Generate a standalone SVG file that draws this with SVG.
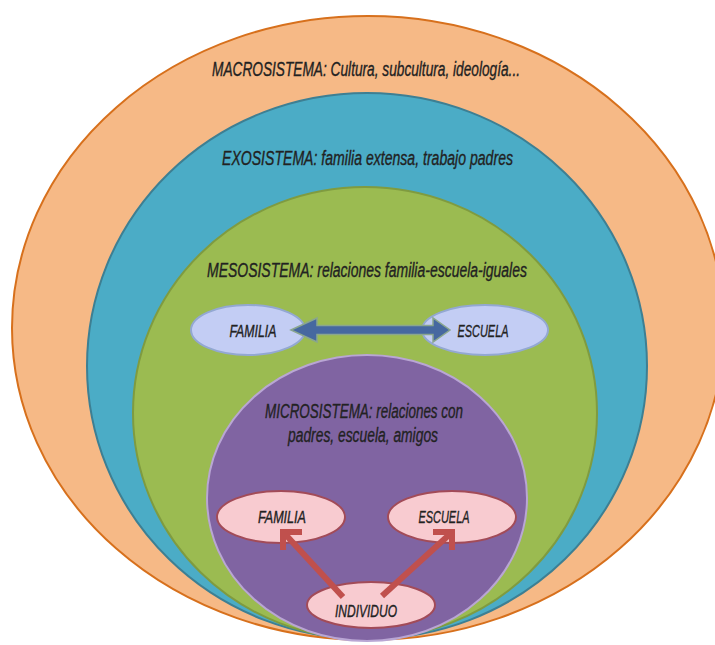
<svg xmlns="http://www.w3.org/2000/svg" width="715" height="645" viewBox="0 0 715 645">
<style>
text{font-family:"Liberation Sans Narrow","Liberation Sans",Arial,sans-serif;font-style:italic;fill:#222;stroke:#222;stroke-width:0.35;}
.lbl{font-size:19.5px;}
.nd{font-size:16.5px;text-anchor:middle;}
.blueN{fill:#c3cdf4;stroke:#93a8d2;stroke-width:2;}
.pinkN{fill:#f8cbd0;stroke:#a24b58;stroke-width:2;}
.red{fill:none;stroke:#c0504d;stroke-width:6;}
</style>
<rect width="715" height="645" fill="#ffffff"/>
<g id="macrosistema">
<ellipse cx="368" cy="328" rx="356" ry="312" fill="#f6b986" stroke="#d7701c" stroke-width="2"/>
<text class="lbl" x="212" y="76" textLength="308" lengthAdjust="spacingAndGlyphs">MACROSISTEMA: Cultura, subcultura, ideología...</text>
</g>
<g id="exosistema">
<ellipse cx="367" cy="366" rx="280" ry="273" fill="#4bacc6" stroke="#3d7f93" stroke-width="2"/>
<text class="lbl" x="222" y="165" textLength="291" lengthAdjust="spacingAndGlyphs">EXOSISTEMA: familia extensa, trabajo padres</text>
</g>
<g id="mesosistema">
<ellipse cx="365" cy="413" rx="232" ry="226" fill="#9bbb51" stroke="#7f9b40" stroke-width="2"/>
<text class="lbl" x="207" y="277" textLength="320" lengthAdjust="spacingAndGlyphs">MESOSISTEMA: relaciones familia-escuela-iguales</text>
</g>
<g id="familia-meso">
<ellipse class="blueN" cx="248" cy="330" rx="57" ry="25"/>
<text class="nd" x="253" y="337" textLength="47" lengthAdjust="spacingAndGlyphs">FAMILIA</text>
</g>
<g id="escuela-meso">
<ellipse class="blueN" cx="485" cy="330" rx="63" ry="25"/>
<text class="nd" x="483" y="337" textLength="51" lengthAdjust="spacingAndGlyphs">ESCUELA</text>
</g>
<g id="microsistema">
<ellipse cx="367" cy="498" rx="160" ry="143" fill="#8064a2" stroke="#b9a6d4" stroke-width="2"/>
<text class="lbl" x="364" y="418" text-anchor="middle" textLength="198" lengthAdjust="spacingAndGlyphs">MICROSISTEMA: relaciones con</text>
<text class="lbl" x="363" y="442" text-anchor="middle" textLength="150" lengthAdjust="spacingAndGlyphs">padres, escuela, amigos</text>
</g>
<g id="familia-micro">
<ellipse class="pinkN" cx="281" cy="517" rx="64" ry="26"/>
<text class="nd" x="282" y="523" textLength="48" lengthAdjust="spacingAndGlyphs">FAMILIA</text>
</g>
<g id="escuela-micro">
<ellipse class="pinkN" cx="452" cy="517" rx="64" ry="26"/>
<text class="nd" x="444" y="523" textLength="51" lengthAdjust="spacingAndGlyphs">ESCUELA</text>
</g>
<g id="individuo">
<ellipse class="pinkN" cx="371" cy="605" rx="64" ry="23"/>
<text class="nd" x="366" y="617" textLength="62" lengthAdjust="spacingAndGlyphs">INDIVIDUO</text>
</g>
<g id="connectors">
<polygon points="291,330 317,318 317,325.5 433,325.5 433,318 450,330 433,342 433,334.5 317,334.5 317,342" fill="#4668a0" stroke="#8aa68e" stroke-width="1.5"/>
<line class="red" x1="343" y1="597" x2="285" y2="534"/>
<polyline class="red" points="302,532 283,532 283,550"/>
<line class="red" x1="382" y1="596" x2="450" y2="534"/>
<polyline class="red" points="433,532 452,532 452,550"/>
</g>
</svg>
